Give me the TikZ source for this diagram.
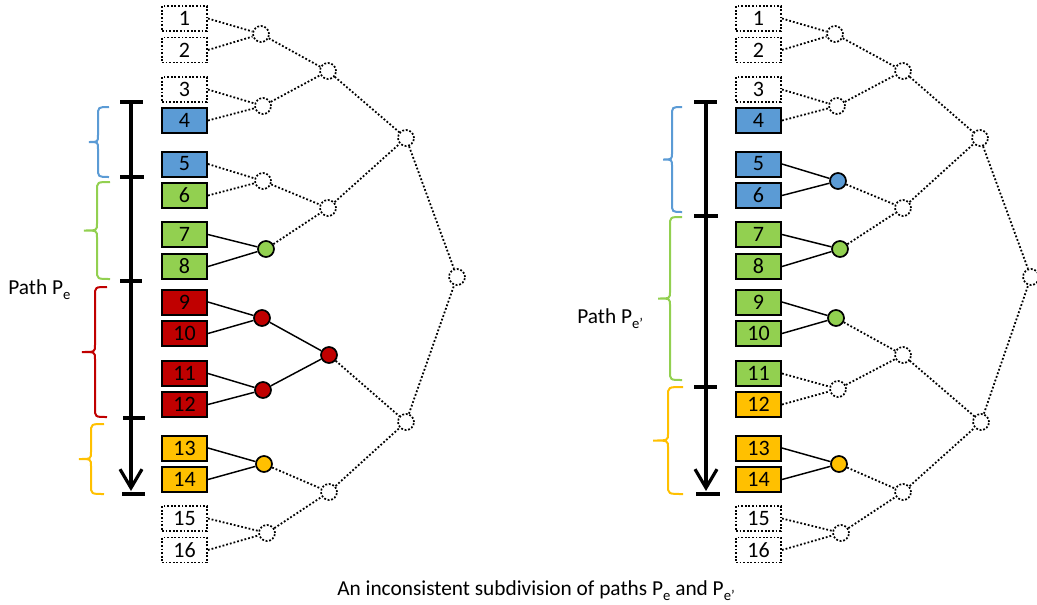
\documentclass[tikz,border=0pt]{standalone}
\usepackage{fontspec}
\setmainfont{Carlito}
\usetikzlibrary{arrows.meta}
\definecolor{cblue}{HTML}{5B9BD5}
\definecolor{cgreen}{HTML}{92D050}
\definecolor{cred}{HTML}{C00000}
\definecolor{cyel}{HTML}{FFC000}
\newcommand\sub[1]{\raisebox{-0.28em}{\fontsize{11}{11}\selectfont #1}}
\newcommand\mybrace[6]{% color, xe, xm, xt, ytop, ybot
\draw[brc,draw=#1] (#2,#5) .. controls (#3,#5) .. (#3,{#5+9}) -- (#3,{(#5+#6)/2-7}) .. controls (#3,{(#5+#6)/2}) .. (#4,{(#5+#6)/2}) .. controls (#3,{(#5+#6)/2}) .. (#3,{(#5+#6)/2+7}) -- (#3,{#6-9}) .. controls (#3,#6) .. (#2,#6);}
\tikzset{
 box/.style={rectangle, draw, line width=1.5pt, minimum width=33.75pt, minimum height=18.75pt, inner sep=0pt, font=\fontsize{16.5}{16.5}\selectfont},
 dbox/.style={box, fill=white, dash pattern=on 1.4pt off 1.3pt, line width=1.4pt},
 bbox/.style={box, fill=cblue},
 gbox/.style={box, fill=cgreen},
 rbox/.style={box, fill=cred},
 ybox/.style={box, fill=cyel},
 cir/.style={circle, draw, line width=1.3pt, minimum size=12pt, inner sep=0pt},
 dcir/.style={cir, fill=white, dash pattern=on 1.4pt off 1.3pt},
 bcir/.style={cir, fill=cblue},
 gcir/.style={cir, fill=cgreen},
 rcir/.style={cir, fill=cred},
 ycir/.style={cir, fill=cyel},
 sedge/.style={line width=1.1pt},
 dedge/.style={line width=1.35pt, dash pattern=on 1.35pt off 1.5pt},
 axis/.style={line width=2.4pt},
 tickbar/.style={line width=3pt},
 brc/.style={line width=1.5pt},
 lbl/.style={inner sep=0pt, font=\fontsize{16}{16}\selectfont},
}
\begin{document}
\begin{tikzpicture}[x=0.75pt,y=-0.75pt]
\useasboundingbox (0,0) rectangle (1037,604);
% ---------------- left tree ----------------
\node[dbox] (l1) at (184.5,18.5) {1};
\node[dbox] (l2) at (184.5,50) {2};
\node[dbox] (l3) at (184.5,89.5) {3};
\node[bbox] (l4) at (184.5,120.5) {4};
\node[bbox] (l5) at (184.5,164) {5};
\node[gbox] (l6) at (184.5,195.5) {6};
\node[gbox] (l7) at (184.5,234.5) {7};
\node[gbox] (l8) at (184.5,266.5) {8};
\node[rbox] (l9) at (184.5,302) {9};
\node[rbox] (l10) at (184.5,333.5) {10};
\node[rbox] (l11) at (184.5,373.5) {11};
\node[rbox] (l12) at (184.5,404.5) {12};
\node[ybox] (l13) at (184.5,448) {13};
\node[ybox] (l14) at (184.5,479.5) {14};
\node[dbox] (l15) at (184.5,518.5) {15};
\node[dbox] (l16) at (184.5,550) {16};
\node[dcir] (lc1) at (261,34) {};
\node[dcir] (lc2) at (263,106) {};
\node[dcir] (lc3) at (263,181) {};
\node[gcir] (lc4) at (266,249) {};
\node[rcir] (lc5) at (262,318) {};
\node[rcir] (lc6) at (263,390) {};
\node[ycir] (lc7) at (264,464) {};
\node[dcir] (lc8) at (267,533) {};
\node[dcir] (ld1) at (328,71) {};
\node[dcir] (ld2) at (328,208) {};
\node[rcir] (ld3) at (329,355) {};
\node[dcir] (ld4) at (329,492) {};
\node[dcir] (le1) at (406,138) {};
\node[dcir] (le2) at (406,422) {};
\node[dcir] (lr) at (457,277) {};
\foreach \a/\b in {l1.east/lc1,l2.east/lc1,l3.east/lc2,l4.east/lc2,l5.east/lc3,l6.east/lc3,lc1/ld1,lc2/ld1,lc3/ld2,lc4/ld2,ld1/le1,ld2/le1,ld3/le2,ld4/le2,le1/lr,le2/lr,lc7/ld4,lc8/ld4,l15.east/lc8,l16.east/lc8}
  \draw[dedge] (\a) -- (\b);
\foreach \a/\b in {l7.east/lc4,l8.east/lc4,l9.east/lc5,l10.east/lc5,l11.east/lc6,l12.east/lc6,lc5/ld3,lc6/ld3,l13.east/lc7,l14.east/lc7}
  \draw[sedge] (\a) -- (\b);
% left axis
\coordinate (lat) at (131,102);
\coordinate (lab) at (131,491);
\draw[axis,-{Straight Barb[length=14pt,width=16.5pt]}] (lat) -- (lab);
\draw[tickbar] (120,102) -- (143,102);
\draw[tickbar] (120,177) -- (144,177);
\draw[tickbar] (120,281) -- (142,281);
\draw[tickbar] (123,418) -- (145,418);
\draw[tickbar] (122,494) -- (145,494);
\mybrace{cblue}{109}{98}{89}{107}{177}
\mybrace{cgreen}{110}{97}{84}{182}{279}
\mybrace{cred}{107}{95}{82}{287}{417}
\mybrace{cyel}{104}{91}{79}{424}{494}
\node[lbl,anchor=base west] (pl) at (8,294) {Path P\sub{e}};
% ---------------- right tree ----------------
\node[dbox] (r1) at (758.5,18.5) {1};
\node[dbox] (r2) at (758.5,50) {2};
\node[dbox] (r3) at (758.5,89.5) {3};
\node[bbox] (r4) at (758.5,120.5) {4};
\node[bbox] (r5) at (758.5,164) {5};
\node[bbox] (r6) at (758.5,195.5) {6};
\node[gbox] (r7) at (758.5,234.5) {7};
\node[gbox] (r8) at (758.5,266.5) {8};
\node[gbox] (r9) at (758.5,302) {9};
\node[gbox] (r10) at (758.5,333.5) {10};
\node[gbox] (r11) at (758.5,373.5) {11};
\node[ybox] (r12) at (758.5,404.5) {12};
\node[ybox] (r13) at (758.5,448) {13};
\node[ybox] (r14) at (758.5,479.5) {14};
\node[dbox] (r15) at (758.5,518.5) {15};
\node[dbox] (r16) at (758.5,550) {16};
\node[dcir] (rc1) at (835,34) {};
\node[dcir] (rc2) at (837,106) {};
\node[bcir] (rc3) at (838,181) {};
\node[gcir] (rc4) at (840,249) {};
\node[gcir] (rc5) at (836,318) {};
\node[dcir] (rc6) at (838,389) {};
\node[ycir] (rc7) at (839,464) {};
\node[dcir] (rc8) at (841,533) {};
\node[dcir] (rd1) at (903,71) {};
\node[dcir] (rd2) at (903,208) {};
\node[dcir] (rd3) at (903,355) {};
\node[dcir] (rd4) at (903,492) {};
\node[dcir] (re1) at (980,138) {};
\node[dcir] (re2) at (981,422) {};
\node[dcir] (rr) at (1031,277) {};
\foreach \a/\b in {r1.east/rc1,r2.east/rc1,r3.east/rc2,r4.east/rc2,r11.east/rc6,r12.east/rc6,r15.east/rc8,r16.east/rc8,rc1/rd1,rc2/rd1,rc3/rd2,rc4/rd2,rc5/rd3,rc6/rd3,rc7/rd4,rc8/rd4,rd1/re1,rd2/re1,rd3/re2,rd4/re2,re1/rr,re2/rr}
  \draw[dedge] (\a) -- (\b);
\foreach \a/\b in {r5.east/rc3,r6.east/rc3,r7.east/rc4,r8.east/rc4,r9.east/rc5,r10.east/rc5,r13.east/rc7,r14.east/rc7}
  \draw[sedge] (\a) -- (\b);
% right axis
\coordinate (rat) at (706,102);
\coordinate (rab) at (706,491);
\draw[axis,-{Straight Barb[length=14pt,width=16.5pt]}] (rat) -- (rab);
\draw[tickbar] (694,102) -- (717,102);
\draw[tickbar] (694,216) -- (718,216);
\draw[tickbar] (694,387) -- (717,387);
\draw[tickbar] (696,494) -- (720,494);
\mybrace{cblue}{682}{672}{663}{107}{212}
\mybrace{cgreen}{682}{670}{658}{217}{380}
\mybrace{cyel}{683}{668}{653}{387}{494}
\node[lbl,anchor=base west] (pr) at (577,323) {Path P\sub{e’}};
% caption
\node[lbl,anchor=base] (cap) at (536,595) {An inconsistent subdivision of paths P\sub{e} and P\sub{e’}};
\end{tikzpicture}
\end{document}
